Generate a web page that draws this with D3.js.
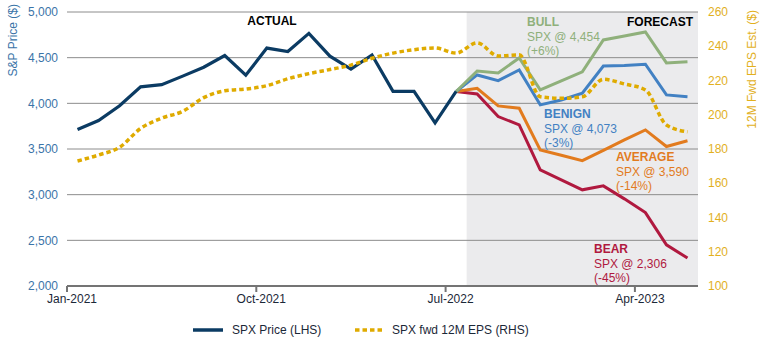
<!DOCTYPE html>
<html><head><meta charset="utf-8">
<script src="https://cdn.jsdelivr.net/npm/d3@7/dist/d3.min.js"></script>
<style>
html,body{margin:0;padding:0;background:#fff;}
svg{display:block;font-family:"Liberation Sans",Arial,Helvetica,sans-serif;}
</style></head>
<body><svg id="c" width="770" height="352"></svg>
<script>
const months = ["Jan-2021","Feb-2021","Mar-2021","Apr-2021","May-2021","Jun-2021","Jul-2021","Aug-2021","Sep-2021","Oct-2021","Nov-2021","Dec-2021",
"Jan-2022","Feb-2022","Mar-2022","Apr-2022","May-2022","Jun-2022","Jul-2022","Aug-2022","Sep-2022","Oct-2022","Nov-2022","Dec-2022",
"Jan-2023","Feb-2023","Mar-2023","Apr-2023","May-2023","Jun-2023"];
const tickLabels = ["Jan-2021","Oct-2021","Jul-2022","Apr-2023"];
const forecastMonths = months.slice(18);
const forecastStart = "Aug-2022";
const spxPrice = [3714,3811,3973,4181,4204,4298,4395,4523,4308,4605,4567,4766,4516,4374,4530,4132,4132,3785,4130];
const epsFwd = [173,176.5,181,192,198,202,210,214,215,217,221,224,226.4,229,233,236,238,239,236,242,234.3,235,210.5,209.6,210.5,220.7,218,214.5,194,190];
const bull    = [4130,4354,4333,4497,4147,4245,4344,4694,4737,4781,4442,4454];
const benign  = [4130,4311,4249,4365,3983,4037,4110,4409,4413,4428,4092,4073];
const average = [4130,4165,3972,3946,3490,3432,3373,3485,3600,3709,3527,3590];
const bear    = [4130,4103,3855,3764,3271,3162,3053,3096,2954,2804,2451,2306];
const leftTicks = [2000,2500,3000,3500,4000,4500,5000];
const rightTicks = [100,120,140,160,180,200,220,240,260];
const scenarioNames = ["BULL","BENIGN","AVERAGE","BEAR"];
const scenarioLabels = ["SPX @ 4,454","SPX @ 4,073","SPX @ 3,590","SPX @ 2,306"];
const scenarioPct = ["(+6%)","(-3%)","(-14%)","(-45%)"];

const svg = d3.select("#c");
const L=67, R=698, T=12, B=286;
const x = d3.scaleBand().domain(months).range([L,R]).padding(0);
const xc = m => x(m)+x.bandwidth()/2;
const yL = d3.scaleLinear().domain([2000,5000]).range([B,T]);
const yR = d3.scaleLinear().domain([100,260]).range([B,T]);

// shading
svg.append("rect").attr("x",x(forecastStart)).attr("y",T)
  .attr("width",R-x(forecastStart)).attr("height",B-T).attr("fill","#ebebed");

// gridlines
svg.append("g").selectAll("line").data(leftTicks.slice(1)).join("line")
  .attr("x1",L).attr("x2",R).attr("y1",d=>yL(d)).attr("y2",d=>yL(d))
  .attr("stroke","#8c8c8c").attr("stroke-width",1);

// left axis labels
svg.append("g").selectAll("text").data(leftTicks).join("text")
  .attr("x",58).attr("y",d=>yL(d)).attr("dy","0.35em").attr("text-anchor","end")
  .attr("font-size",12).attr("fill","#3b74a8").text(d=>d3.format(",")(d));
// right axis labels
svg.append("g").selectAll("text").data(rightTicks).join("text")
  .attr("x",708).attr("y",d=>yR(d)).attr("dy","0.35em").attr("text-anchor","start")
  .attr("font-size",12).attr("fill","#e2b01e").text(d=>d);

// axis titles
svg.append("text").attr("transform","translate(13,4) rotate(-90)").attr("text-anchor","end")
  .attr("dy","0.35em").attr("font-size",12).attr("fill","#3b74a8").text("S&P Price ($)");
svg.append("text").attr("transform","translate(752,10) rotate(-90)").attr("text-anchor","end")
  .attr("dy","0.35em").attr("font-size",12).attr("fill","#e2b01e").text("12M Fwd EPS Est. ($)");

// x axis
svg.append("line").attr("x1",L).attr("x2",R).attr("y1",B).attr("y2",B)
  .attr("stroke","#747474").attr("stroke-width",2);
svg.append("g").selectAll("line").data(tickLabels).join("line")
  .attr("x1",d=>x(d)).attr("x2",d=>x(d)).attr("y1",B).attr("y2",B+6)
  .attr("stroke","#747474").attr("stroke-width",2);
svg.append("g").selectAll("text").data(tickLabels).join("text")
  .attr("x",d=>x(d)+5).attr("y",B+17).attr("text-anchor","middle")
  .attr("font-size",12).attr("fill","#1b2838").text(d=>d);

// scenario lines
const scenColors = ["#8fb07b","#4281c3","#e27b1e","#b0193f"];
const scenData = [bull,benign,average,bear];
const lineL = d3.line().x(d=>xc(d[0])).y(d=>yL(d[1]));
for (let i=3;i>=0;i--){
  svg.append("path").datum(forecastMonths.map((m,j)=>[m,scenData[i][j]]))
    .attr("d",lineL).attr("fill","none").attr("stroke",scenColors[i])
    .attr("stroke-width",3).attr("stroke-linejoin","miter");
}
// SPX price
svg.append("path").datum(spxPrice.map((v,j)=>[months[j],v]))
  .attr("d",lineL).attr("fill","none").attr("stroke","#0b3b63")
  .attr("stroke-width",3.2).attr("stroke-linejoin","miter");
// EPS dotted
const lineR = d3.line().x(d=>xc(d[0])).y(d=>yR(d[1])).curve(d3.curveMonotoneX);
svg.append("path").datum(epsFwd.map((v,j)=>[months[j],v]))
  .attr("d",lineR).attr("fill","none").attr("stroke","#dfab00")
  .attr("stroke-width",3.5).attr("stroke-dasharray","4.5,3");

// annotations
svg.append("text").attr("x",272).attr("y",25).attr("text-anchor","middle")
  .attr("font-size",12).attr("font-weight","bold").attr("fill","#000").text("ACTUAL");
svg.append("text").attr("x",693).attr("y",26).attr("text-anchor","end")
  .attr("font-size",12).attr("font-weight","bold").attr("fill","#000").text("FORECAST");
const annPos = [[527,26],[544,118],[616,161],[594,253]];
for (let i=0;i<4;i++){
  const g = svg.append("g").attr("fill",scenColors[i]).attr("font-size",12);
  g.append("text").attr("x",annPos[i][0]).attr("y",annPos[i][1]).attr("font-weight","bold").text(scenarioNames[i]);
  g.append("text").attr("x",annPos[i][0]).attr("y",annPos[i][1]+14.5).text(scenarioLabels[i]);
  g.append("text").attr("x",annPos[i][0]).attr("y",annPos[i][1]+29).text(scenarioPct[i]);
}

// legend
svg.append("line").attr("x1",193).attr("x2",223).attr("y1",330).attr("y2",330)
  .attr("stroke","#0b3b63").attr("stroke-width",3.5);
svg.append("text").attr("x",232).attr("y",330).attr("dy","0.35em").attr("font-size",12)
  .attr("fill","#1b2838").text("SPX Price (LHS)");
svg.append("line").attr("x1",355).attr("x2",384).attr("y1",330).attr("y2",330)
  .attr("stroke","#dfab00").attr("stroke-width",3.5).attr("stroke-dasharray","4.5,3");
svg.append("text").attr("x",392).attr("y",330).attr("dy","0.35em").attr("font-size",12)
  .attr("fill","#1b2838").text("SPX fwd 12M EPS (RHS)");
</script></body></html>
